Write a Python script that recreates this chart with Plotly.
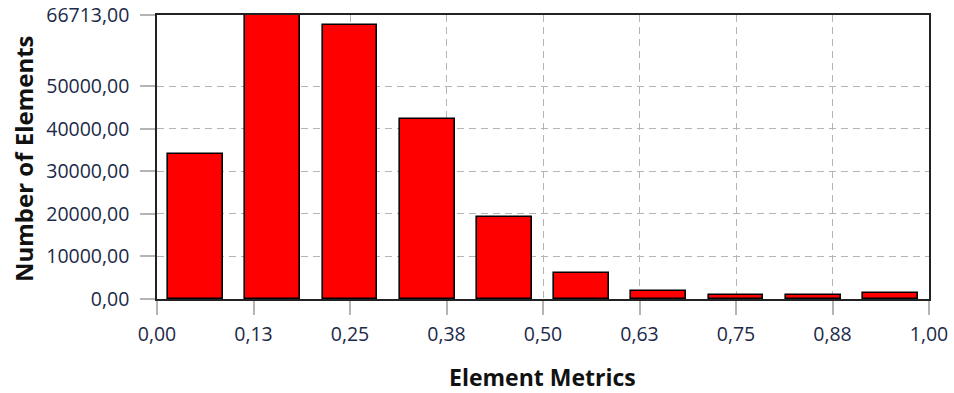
import plotly.graph_objects as go

# Data
bin_centers = [0.05, 0.15, 0.25, 0.35, 0.45, 0.55, 0.65, 0.75, 0.85, 0.95]
counts = [34000, 66713, 64450, 42400, 19250, 6150, 1950, 870, 870, 1400]

x_tickvals = [0, 0.125, 0.25, 0.375, 0.5, 0.625, 0.75, 0.875, 1.0]
x_ticktext = ["0,00", "0,13", "0,25", "0,38", "0,50", "0,63", "0,75", "0,88", "1,00"]
y_tickvals = [0, 10000, 20000, 30000, 40000, 50000, 66713]
y_ticktext = ["0,00", "10000,00", "20000,00", "30000,00", "40000,00", "50000,00", "66713,00"]

L, R, T, B = 157, 25, 15, 94
W, H = 954, 393
PW, PH = W - L - R, H - T - B

def px_x(px):
    return (px - L) / PW

def px_y(py):
    return (H - B - py) / PH

fig = go.Figure()
fig.add_trace(go.Bar(
    x=bin_centers, y=counts, width=0.071,
    marker=dict(color="#ff0000", line=dict(color="#000000", width=1.6)),
    showlegend=False, hoverinfo="x+y",
))

FONT = "Open Sans, Noto Sans, sans-serif"
tickfont = dict(family=FONT, size=19.5, color="#1c2a48")
fig.update_layout(
    template="none",
    width=W, height=H,
    margin=dict(l=L, r=R, t=T, b=B, pad=0),
    paper_bgcolor="white", plot_bgcolor="white",
    bargap=0,
    xaxis=dict(
        range=[0, 1], tickvals=x_tickvals, ticktext=x_ticktext,
        showgrid=True, gridcolor="#b4b4b4", griddash="7px,5px", gridwidth=1.3,
        ticks="outside", ticklen=14, tickcolor="#b4b4b4", tickwidth=1.5,
        showline=True, linecolor="#222222", linewidth=1.5, mirror=True,
        tickfont=tickfont, zeroline=False, automargin=False,
        ticklabelstandoff=3,
    ),
    yaxis=dict(
        range=[0, 66713], tickvals=y_tickvals, ticktext=y_ticktext,
        showgrid=True, gridcolor="#b4b4b4", griddash="7px,5px", gridwidth=1.3,
        ticks="outside", ticklen=15, tickcolor="#b4b4b4", tickwidth=1.5,
        showline=True, linecolor="#222222", linewidth=1.5, mirror=True,
        tickfont=tickfont, zeroline=False, automargin=False, ticklabelstandoff=7,
    ),
    annotations=[
        dict(
            text="<b>Number of Elements</b>", textangle=-90,
            xref="paper", yref="paper", x=px_x(23), y=px_y(159),
            xanchor="center", yanchor="middle", showarrow=False,
            font=dict(family=FONT, size=24, color="#111111"),
        ),
        dict(
            text="<b>Element Metrics</b>",
            xref="paper", yref="paper", x=px_x(542), y=px_y(377),
            xanchor="center", yanchor="middle", showarrow=False,
            font=dict(family=FONT, size=23, color="#111111"),
        ),
    ],
)

fig.write_html(
    "out.html",
    config={"displayModeBar": False},
    post_script="document.body.style.margin='0';document.body.style.padding='0';"
                "document.documentElement.style.overflow='hidden';",
)
